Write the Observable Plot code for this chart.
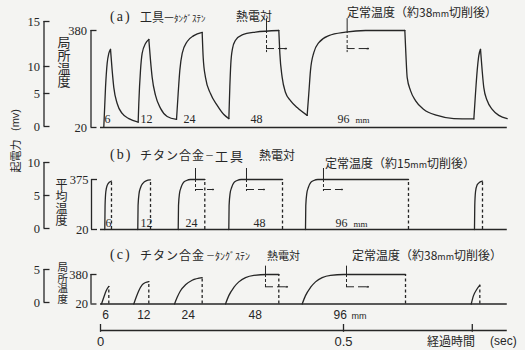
<!DOCTYPE html>
<html><head><meta charset="utf-8">
<script src="https://cdn.jsdelivr.net/npm/d3@7"></script>
<script src="https://cdn.jsdelivr.net/npm/@observablehq/plot@0.6"></script>
<style>
html,body{margin:0;padding:0;background:#f4f4f2;}
#chart{position:relative;width:525px;height:350px;overflow:hidden;background:#f4f4f2;}
#chart svg{position:absolute;left:0;top:0;background:transparent !important;max-width:none !important;overflow:visible;}
.lbl{position:absolute;white-space:nowrap;color:#262626;line-height:1;}
</style></head><body><div id="chart"></div>
<script>
// ---------------- data ----------------
const cutLengths = [6, 12, 24, 48, 96];          // cut length (mm) of each pass
const timeTicks = [0, 0.5, 0.765];               // sec
const timeTickLabels = ["0", "0.5", ""];
const timeEnd = 0.837;                           // end of record (sec)

// (a) 工具－タングステン熱電対 : local temperature (°C) vs time (sec); rise / fall segments
const aSeg = [
  [[0.0068,22],[0.0103,168],[0.0137,258],[0.0171,295],[0.0206,310]],
  [[0.0206,310],[0.0240,232],[0.0274,168],[0.0343,109],[0.0446,72],[0.0583,53],[0.0775,40]],
  [[0.0775,40],[0.0788,109],[0.0823,232],[0.0857,295],[0.0926,332],[0.0994,347]],
  [[0.0994,347],[0.1029,269],[0.1063,206],[0.1132,139],[0.1235,91],[0.1372,61],[0.1564,50]],
  [[0.1564,50],[0.1598,146],[0.1632,232],[0.1681,295],[0.1784,339],[0.1920,361],[0.2092,373]],
  [[0.2092,373],[0.2113,280],[0.2160,206],[0.2263,146],[0.2401,102],[0.2538,68],[0.2641,53]],
  [[0.2641,53],[0.2661,170],[0.2681,256],[0.2715,312],[0.2775,343],[0.2915,364],[0.3189,374],[0.3669,380]],
  [[0.3669,380],[0.3690,295],[0.3738,206],[0.3807,150],[0.3909,120],[0.4047,94],[0.4252,65]],
  [[0.4252,65],[0.4286,146],[0.4321,232],[0.4389,298],[0.4492,335],[0.4698,361],[0.5041,374],[0.5453,380],[0.6262,380]],
  [[0.6262,380],[0.6283,295],[0.6310,206],[0.6379,157],[0.6481,120],[0.6653,87],[0.6928,65],[0.7270,53],[0.7682,52]],
  [[0.7682,52],[0.7716,146],[0.7751,232],[0.7784,287],[0.7819,310]],
  [[0.7819,310],[0.7853,232],[0.7887,168],[0.7956,120],[0.8060,87],[0.8196,65],[0.8368,53]]
];
const aMarks = [
  {t:0.3416, top:424, bottom:298, arrowT:313, end:0.3827},
  {t:0.5075, top:424, bottom:298, arrowT:313, end:0.5514}
];
const aLabelT = [0.0082, 0.0823, 0.1708, 0.3086, 0.4877];

// (b) チタン合金－工具熱電対 : mean temperature (°C)
const bRise = [
  [[0.0088,20],[0.0094,190],[0.0110,290],[0.0140,335],[0.0180,355],[0.0226,364]],
  [[0.0767,20],[0.0773,190],[0.0794,276],[0.0825,318],[0.0876,350],[0.0938,366],[0.1029,372]],
  [[0.1599,20],[0.1605,190],[0.1626,276],[0.1657,318],[0.1708,354],[0.1770,368],[0.1852,375],[0.2146,375]],
  [[0.2640,20],[0.2646,190],[0.2667,276],[0.2698,318],[0.2749,354],[0.2811,368],[0.2893,375],[0.3745,375]],
  [[0.4218,20],[0.4224,190],[0.4245,276],[0.4276,318],[0.4327,354],[0.4389,368],[0.4471,375],[0.6337,375]],
  [[0.7695,20],[0.7701,190],[0.7717,290],[0.7747,335],[0.7800,355],[0.7860,364]]
];
const bMarks = [
  {t:0.1955, top:453, bottom:290, arrowT:304, end:0.2325},
  {t:0.3004, top:453, bottom:290, arrowT:304, end:0.3374},
  {t:0.4588, top:453, bottom:290, arrowT:304, end:0.4979}
];
const bLabelT = [0.0103, 0.0823, 0.1749, 0.3148, 0.4835];

// (c) チタン合金－タングステン熱電対 : local temperature (°C)
const cRise = [
  [[0.0021,20],[0.0068,102],[0.0117,182],[0.0171,234]],
  [[0.0685,20],[0.0734,102],[0.0788,182],[0.0857,254],[0.0926,282],[0.0994,294]],
  [[0.1523,20],[0.1578,102],[0.1646,182],[0.1749,254],[0.1886,310],[0.2092,342]],
  [[0.2572,20],[0.2640,122],[0.2743,222],[0.2846,290],[0.2984,342],[0.3155,370],[0.3430,380],[0.3669,380]],
  [[0.4150,20],[0.4218,122],[0.4321,222],[0.4424,290],[0.4561,342],[0.4733,370],[0.5007,380],[0.6276,380]],
  [[0.7628,20],[0.7675,122],[0.7737,194],[0.7805,250]]
];
const cMarks = [
  {t:0.3395, top:482, bottom:218, arrowT:230, end:0.3848},
  {t:0.5062, top:482, bottom:218, arrowT:230, end:0.5514}
];
const cLabelT = [0.0035, 0.0754, 0.1667, 0.3045, 0.4794];

// axis ticks
const aMvTicks = [0, 5, 10, 15], aTempTicks = [20, 380];
const bMvTicks = [0, 5, 10],     bTempTicks = [20, 375];
const cMvTicks = [0, 5],         cTempTicks = [20, 380];

// ---------------- drawing ----------------
const W = 525, H = 350;
const ink = "#262626";
const numFont = "'Liberation Serif','DejaVu Serif',serif";
const sansFont = "'Liberation Sans','DejaVu Sans',sans-serif";
const jpFont = "'Noto Sans CJK JP','Noto Sans',sans-serif";
const chart = document.getElementById("chart");
const X = {domain:[0,0.5], range:[100,343], axis:null};

function add(opts){ chart.appendChild(Plot.plot({width:W, height:H, margin:0, ...opts})); }
function pts(segs){ return segs.flatMap((s,i)=>s.map(([t,T])=>({t,T,seg:i}))); }

// bracket-style axis; pos maps a tick value to its vertical position (d3 scale)
function bracket(pos, ticks, lineX, lx=-4){
  const lo = d3.min(ticks), hi = d3.max(ticks);
  add({
    x:{domain:[0,1], range:[lineX, lineX+6], axis:null},
    y:{type:"identity", axis:null},
    marks:[
      Plot.ruleX([0], {x:d=>d, y1:()=>pos(lo), y2:()=>pos(hi), stroke:ink, strokeWidth:1.3}),
      Plot.ruleY(ticks, {y:d=>pos(d), x1:()=>0, x2:()=>1, stroke:ink, strokeWidth:1.3}),
      Plot.text(ticks, {x:()=>0, y:d=>pos(d), text:d=>String(d), dx:lx, textAnchor:"end",
        fontSize:12.5, fontFamily:numFont, fill:ink})
    ]
  });
}
function markerMarks(m, plateau){
  return [
    Plot.ruleX(m, {x:"t", y1:"top", y2:()=>plateau, stroke:ink, strokeWidth:1}),
    Plot.ruleX(m, {x:"t", y1:()=>plateau, y2:"bottom", stroke:ink, strokeWidth:1, strokeDasharray:"3,2"}),
    Plot.ruleY(m, {y:"arrowT", x1:"t", x2:"end", stroke:ink, strokeWidth:1, strokeDasharray:"8,4"}),
    Plot.arrow(m, {x1:d=>d.end-0.004, x2:"end", y1:"arrowT", y2:"arrowT", stroke:ink, strokeWidth:1.2, headLength:5})
  ];
}
function mmLabels(ts, dy, font, size){
  const d = ts.map((t,i)=>({t, v:cutLengths[i]}));
  return [
    Plot.text(d, {x:"t", y:()=>20, text:d=>String(d.v), dy, textAnchor:"start", fontSize:size, fontFamily:font, fill:ink}),
    Plot.text(d.slice(-1), {x:"t", y:()=>20, text:()=>"mm", dy:dy+1, dx:18, textAnchor:"start", fontSize:size-3, fontFamily:font, fill:ink})
  ];
}
function endRules(segs){
  return Plot.ruleX(segs.map(s=>s[s.length-1]), {x:d=>d[0], y1:()=>20, y2:d=>d[1], stroke:ink, strokeWidth:1.3, strokeDasharray:"3,2.5"});
}

// scales
const aY = {domain:[20,380], range:[127,30]};
const bY = {domain:[20,375], range:[229,179]};
const cY = {domain:[20,380], range:[303.5,274]};
const lin = o => d3.scaleLinear(o.domain, o.range);
const aMv = d3.scaleLinear([0,5,10,15], [126,93,66,21]);   // hand-drawn, uneven mV scale
const bMv = d3.scaleLinear([0,10], [228,162]);
const cMv = d3.scaleLinear([0,5], [302,269]);

// panel (a)
add({x:X, y:{...aY, axis:null}, marks:[
  Plot.ruleY([20], {x1:()=>0, x2:()=>timeEnd, stroke:ink, strokeWidth:1.3}),
  Plot.line(pts(aSeg), {x:"t", y:"T", z:"seg", curve:"monotone-x", stroke:ink, strokeWidth:1.3}),
  ...markerMarks(aMarks, 380),
  ...mmLabels(aLabelT, -8, numFont, 12)
]});
bracket(aMv, aMvTicks, 43.5);
bracket(lin(aY), aTempTicks, 90.5);

// panel (b)
add({x:X, y:{...bY, axis:null}, marks:[
  Plot.ruleY([20], {x1:()=>0, x2:()=>timeEnd, stroke:ink, strokeWidth:1.3}),
  Plot.line(pts(bRise), {x:"t", y:"T", z:"seg", curve:"monotone-x", stroke:ink, strokeWidth:1.3}),
  endRules(bRise),
  ...markerMarks(bMarks, 375),
  ...mmLabels(bLabelT, -6, numFont, 12)
]});
bracket(bMv, bMvTicks, 43.5);
bracket(lin(bY), bTempTicks, 91, -3);

// panel (c)
add({x:X, y:{...cY, axis:null}, marks:[
  Plot.ruleY([20], {x1:()=>0, x2:()=>timeEnd, stroke:ink, strokeWidth:1.3}),
  Plot.line(pts(cRise), {x:"t", y:"T", z:"seg", curve:"monotone-x", stroke:ink, strokeWidth:1.3}),
  endRules(cRise),
  ...markerMarks(cMarks, 380),
  ...mmLabels(cLabelT, 11, sansFont, 12)
]});
bracket(cMv, cMvTicks, 43.5);
bracket(lin(cY), cTempTicks, 90.5, -3);

// time axis
add({x:X, y:{domain:[0,1], range:[330,324], axis:null}, marks:[
  Plot.ruleY([0], {x1:()=>0, x2:()=>timeEnd, stroke:ink, strokeWidth:1.3}),
  Plot.ruleX(timeTicks, {x:d=>d, y1:()=>-0.3, y2:()=>1, stroke:ink, strokeWidth:1.3}),
  Plot.text(timeTicks, {x:d=>d, y:()=>0, dy:11, text:(d,i)=>timeTickLabels[i], fontSize:13, fontFamily:sansFont, fill:ink})
]});

// ---------------- html labels ----------------
function label(html, x, y, o={}){
  const d = document.createElement("div");
  d.className = "lbl";
  d.innerHTML = html;
  d.style.left = x+"px"; d.style.top = y+"px";
  d.style.fontSize = (o.size||12)+"px";
  d.style.fontFamily = o.font||jpFont;
  if (o.ls) d.style.letterSpacing = o.ls+"px";
  if (o.vertical){ d.style.writingMode="vertical-rl"; d.style.transform="translate(-50%,0)"; d.style.lineHeight="1"; }
  else if (o.rotate){ d.style.transform=`translate(-50%,-50%) rotate(${o.rotate}deg)`; }
  else { const tx = o.anchor==="end"?"-100%":o.anchor==="middle"?"-50%":"0"; d.style.transform=`translate(${tx},-50%)`; }
  chart.appendChild(d);
}
const sm = s=>`<span style="font-size:9px">${s}</span>`;
// titles
label("(a)", 110, 17, {font:numFont, size:14, ls:2});
label("工具", 140, 17, {size:12});
label("－", 163, 17, {size:12});
label("ﾀﾝｸﾞｽﾃﾝ", 174, 18, {size:9});
label("熱電対", 236, 16, {size:12});
label(`定常温度（約38${sm("mm")}切削後）`, 347, 12, {size:12});

label("(b)", 110, 155, {font:numFont, size:14, ls:2});
label("チタン合金", 140, 155, {size:12, ls:1});
label("－", 205, 155, {size:9});
label("工具", 215, 155, {size:13, ls:2});
label("熱電対", 259, 155, {size:12});
label(`定常温度（約15${sm("mm")}切削後）`, 325, 163, {size:12});

label("(c)", 110, 255, {font:numFont, size:14, ls:2});
label("チタン合金", 140, 255, {size:12, ls:1});
label("－", 206, 255, {size:9});
label("ﾀﾝｸﾞｽﾃﾝ", 215, 256, {size:10});
label("熱電対", 267, 255, {size:11});
label(`定常温度（約38${sm("mm")}切削後）`, 352, 255, {size:12});

// axis titles
label("局所温度", 64, 36, {vertical:true, size:13});
label("平均温度", 61, 178, {vertical:true, size:12});
label("局所温度", 62, 262, {vertical:true, size:10.5});
label("(mv)", 15, 120, {rotate:-90, size:11, font:sansFont});
label("起電力", 15, 156, {rotate:-90, size:11});
label("経過時間", 427, 341, {size:12});
label("(sec)", 490, 341, {size:12, font:sansFont});
</script></body></html>
